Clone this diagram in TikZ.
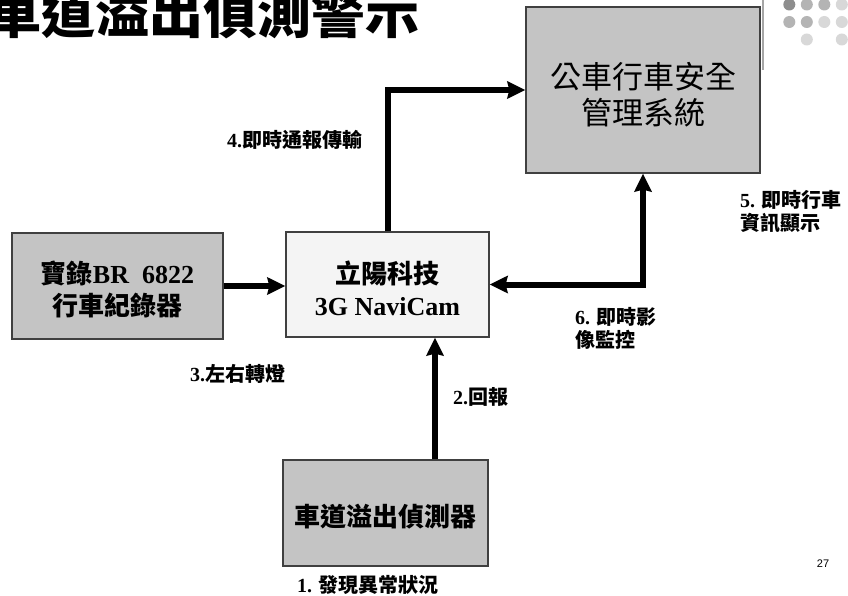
\documentclass[tikz,border=0pt]{standalone}
\usepackage{fontspec}
\setmainfont{Liberation Serif}
\newfontfamily\cjk{Noto Sans CJK TC}
\newfontfamily\tms{Liberation Serif}
\newfontfamily\arl{Liberation Sans}
\usetikzlibrary{arrows.meta}
\definecolor{boxg}{HTML}{C4C4C4}
\definecolor{boxw}{HTML}{F4F4F4}
\definecolor{bordc}{HTML}{404040}
\definecolor{dotA}{HTML}{8E8E8E}
\definecolor{dotB}{HTML}{B4B4B4}
\definecolor{dotC}{HTML}{D8D8D8}
\tikzset{
  box/.style={draw=bordc, line width=1.2pt, inner sep=0pt, align=center},
  gbox/.style={box, fill=boxg},
  wbox/.style={box, fill=boxw},
  flow/.style={line width=6pt, line join=miter, -{Stealth[length=18pt,width=17pt,inset=2pt]}},
  flowboth/.style={line width=6pt, line join=miter, {Stealth[length=18pt,width=17pt,inset=2pt]}-{Stealth[length=18pt,width=17pt,inset=2pt]}},
  lbl/.style={inner sep=0pt, anchor=west, align=left, font=\cjk\bfseries\fontsize{20}{23}\selectfont},
  boxtxt/.style={font=\cjk\bfseries\fontsize{26}{32}\selectfont},
}
\begin{document}
\begin{tikzpicture}[x=1pt,y=-1pt]
\useasboundingbox (0,0) rectangle (848,596);
\clip (0,0) rectangle (848,596);
\fill[white] (0,0) rectangle (848,596);
% title
\node[anchor=west, inner sep=0pt, font=\cjk\bfseries\fontsize{54}{60}\selectfont] (title) at (-13,13) {車道溢出偵測警示};
% decoration
\draw[gray!70, line width=1.5pt] (763,0) -- (763,70);
\fill[dotA] (789.3,4.5) circle (6);
\fill[dotB] (806.8,4.5) circle (6);
\fill[dotB] (824.3,4.5) circle (6);
\fill[dotC] (841.8,4.5) circle (6);
\fill[dotB] (789.3,22) circle (6);
\fill[dotB] (806.8,22) circle (6);
\fill[dotC] (824.3,22) circle (6);
\fill[dotC] (841.8,22) circle (6);
\fill[dotC] (806.8,39.5) circle (6);
\fill[dotC] (841.8,39.5) circle (6);
% boxes
\node[gbox, minimum width=234pt, minimum height=166pt] (bus) at (643,90) {};
\node[font=\cjk\fontsize{31}{36}\selectfont, align=center, inner sep=0pt] (bustxt) at (643,95) {公車行車安全\\管理系統};
\node[gbox, minimum width=211pt, minimum height=106pt] (brec) at (117.5,286) {};
\node[boxtxt, align=center, inner sep=0pt] (brectxt) at (117.5,289) {寶錄{\tms\bfseries BR~~6822}\\行車紀錄器};
\node[wbox, minimum width=203pt, minimum height=105pt] (navi) at (387.5,284.5) {};
\node[boxtxt, align=center, inner sep=0pt] (navitxt) at (387.5,288) {立陽科技\\{\tms\bfseries 3G NaviCam}};
\node[gbox, minimum width=205pt, minimum height=106pt] (det) at (385.5,513) {};
\node[boxtxt, inner sep=0pt] (dettxt) at (385.5,517) {車道溢出偵測器};
% connectors
\draw[flow] (brec.east) -- (navi.west |- brec.east);
\draw[flow] (navi.north) |- (bus.west);
\draw[flowboth] (bus.south) |- (navi.east);
\coordinate (detout) at ([xshift=49.5pt]det.north);
\draw[flow] (detout) -- (detout |- navi.south);
% labels
\node[lbl] (l4) at (227,140) {{\tms\bfseries 4.}即時通報傳輸};
\node[lbl] (l3) at (190,374) {{\tms\bfseries 3.}左右轉燈};
\node[lbl] (l2) at (453,397) {{\tms\bfseries 2.}回報};
\node[lbl] (l5) at (740,211.5) {{\tms\bfseries 5.} 即時行車\\資訊顯示};
\node[lbl] (l6) at (575,328) {{\tms\bfseries 6.} 即時影\\像監控};
\node[lbl] (l1) at (297,585) {{\tms\bfseries 1.} 發現異常狀況};
\node[inner sep=0pt, font=\arl\fontsize{11}{13}\selectfont] (pg) at (823,564) {27};
\end{tikzpicture}
\end{document}
